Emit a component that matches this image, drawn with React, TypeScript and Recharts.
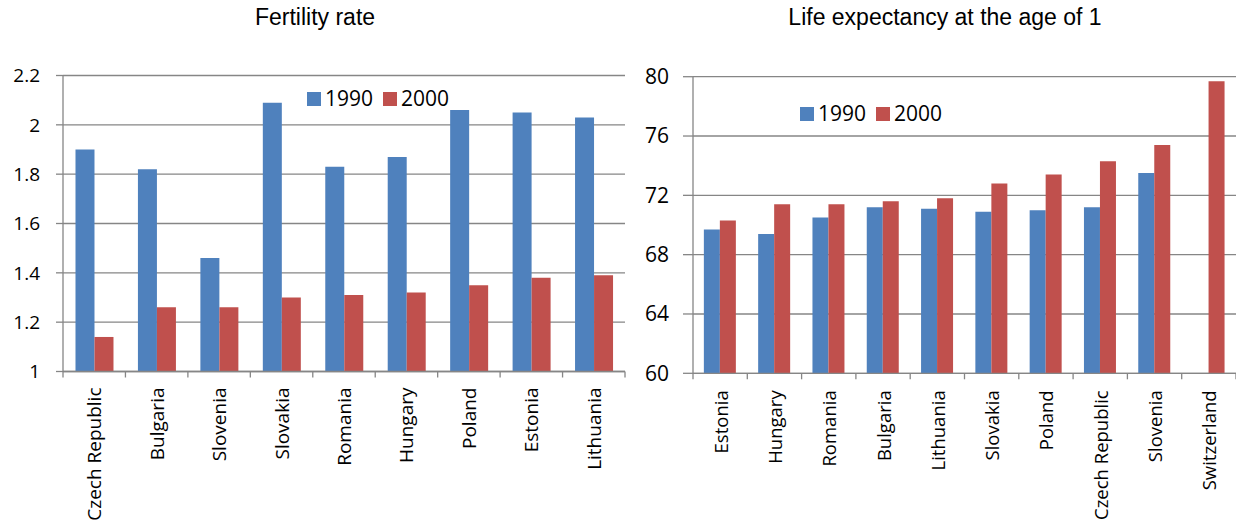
import React from 'react';
import { BarChart, Bar, XAxis, YAxis, CartesianGrid, Legend } from 'recharts';

const BLUE = '#4F81BD';
const RED = '#C0504D';
const GRID = '#868686';
const FONT = '"Open Sans", "Noto Sans", sans-serif';

const fertilityCountries = ['Czech Republic', 'Bulgaria', 'Slovenia', 'Slovakia', 'Romania', 'Hungary', 'Poland', 'Estonia', 'Lithuania'];
const fertility1990 = [1.9, 1.82, 1.46, 2.09, 1.83, 1.87, 2.06, 2.05, 2.03];
const fertility2000 = [1.14, 1.26, 1.26, 1.3, 1.31, 1.32, 1.35, 1.38, 1.39];
const fertilityTicks = [1, 1.2, 1.4, 1.6, 1.8, 2, 2.2];

const lifeCountries = ['Estonia', 'Hungary', 'Romania', 'Bulgaria', 'Lithuania', 'Slovakia', 'Poland', 'Czech Republic', 'Slovenia', 'Switzerland'];
const life1990 = [69.7, 69.4, 70.5, 71.2, 71.1, 70.9, 71.0, 71.2, 73.5, 59.9];
const life2000 = [70.3, 71.4, 71.4, 71.6, 71.8, 72.8, 73.4, 74.3, 75.4, 79.7];
const lifeTicks = [60, 64, 68, 72, 76, 80];

const fertilityData = fertilityCountries.map((c, i) => ({ country: c, y1990: fertility1990[i], y2000: fertility2000[i] }));
const lifeData = lifeCountries.map((c, i) => ({ country: c, y1990: life1990[i], y2000: life2000[i] }));

const LegendContent = (props: any) => {
  const { payload = [] } = props;
  return (
    <div style={{ display: 'flex', alignItems: 'center', fontFamily: FONT, fontSize: 21, color: '#000', lineHeight: 1 }}>
      {payload.map((p: any, i: number) => (
        <div key={i} style={{ display: 'flex', alignItems: 'center', marginRight: 10 }}>
          <span style={{ width: 14, height: 14, background: p.color, marginRight: 4, display: 'inline-block' }} />
          <span>{p.value}</span>
        </div>
      ))}
    </div>
  );
};

// Category tick: rotated label plus Excel-style tick marks on the category boundaries
const makeVerticalTick = (fontSize: number, margin: number, count: number) => (props: any) => {
  const { x, y, payload, index } = props;
  const half = payload && typeof payload.offset === 'number' ? payload.offset : 0;
  const axisY = y - margin;
  const isLast = index === count - 1;
  return (
    <g>
      {half > 0 && (
        <line x1={x - half} x2={x - half} y1={axisY} y2={axisY + 6} stroke={GRID} strokeWidth={1.3} />
      )}
      {half > 0 && isLast && (
        <line x1={x + half} x2={x + half} y1={axisY} y2={axisY + 6} stroke={GRID} strokeWidth={1.3} />
      )}
      <text
        x={x}
        y={y}
        transform={`rotate(-90, ${x}, ${y})`}
        textAnchor="end"
        dominantBaseline="central"
        fontFamily={FONT}
        fontSize={fontSize}
        fill="#000"
      >
        {payload.value}
      </text>
    </g>
  );
};

const LEFT_MARGIN = 16;
const RIGHT_MARGIN = 17;
const LeftTick = makeVerticalTick(19, LEFT_MARGIN, fertilityCountries.length);
const RightTick = makeVerticalTick(18.5, RIGHT_MARGIN, lifeCountries.length);

const titleStyle: React.CSSProperties = {
  position: 'absolute',
  top: 4,
  fontFamily: '"Liberation Sans", Arial, sans-serif',
  fontSize: 23,
  color: '#000',
  whiteSpace: 'nowrap',
  transform: 'translateX(-50%)',
};

export default function App() {
  return (
    <div style={{ position: 'absolute', left: 0, top: 0, width: 1236, height: 523, background: '#fff', overflow: 'hidden' }}>
      <div style={{ ...titleStyle, left: 315 }}>Fertility rate</div>
      <div style={{ ...titleStyle, left: 945 }}>Life expectancy at the age of 1</div>

      <div style={{ position: 'absolute', left: 0, top: 0 }}>
        <BarChart
          width={640}
          height={523}
          data={fertilityData}
          margin={{ top: 75.5, right: 15, bottom: 1, left: 0 }}
          barCategoryGap="20%"
          barGap={0}
        >
          <CartesianGrid vertical={false} stroke={GRID} strokeWidth={1.3} />
          <XAxis
            dataKey="country"
            height={150.5}
            interval={0}
            tickSize={0}
            tickMargin={LEFT_MARGIN}
            tickLine={false}
            axisLine={{ stroke: GRID, strokeWidth: 1.3 }}
            tick={<LeftTick />}
          />
          <YAxis
            width={63}
            domain={[1, 2.2]}
            ticks={fertilityTicks}
            interval={0}
            tickSize={7}
            tickMargin={16}
            axisLine={{ stroke: GRID, strokeWidth: 1.3 }}
            tickLine={{ stroke: GRID, strokeWidth: 1.3 }}
            tick={{ fill: '#000', fontSize: 19, fontFamily: FONT }}
          />
          <Legend
            layout="horizontal"
            align="center"
            verticalAlign="middle"
            wrapperStyle={{ left: 307, top: 88, width: 'auto' }}
            content={<LegendContent />}
          />
          <Bar dataKey="y1990" name="1990" fill={BLUE} isAnimationActive={false} />
          <Bar dataKey="y2000" name="2000" fill={RED} isAnimationActive={false} />
        </BarChart>
      </div>

      <div style={{ position: 'absolute', left: 620, top: 0 }}>
        <BarChart
          width={616}
          height={523}
          data={lifeData}
          margin={{ top: 76.7, right: 0, bottom: 1, left: 0 }}
          barCategoryGap="20%"
          barGap={0}
        >
          <CartesianGrid vertical={false} stroke={GRID} strokeWidth={1.3} />
          <XAxis
            dataKey="country"
            height={148.7}
            interval={0}
            tickSize={0}
            tickMargin={RIGHT_MARGIN}
            tickLine={false}
            axisLine={{ stroke: GRID, strokeWidth: 1.3 }}
            tick={<RightTick />}
          />
          <YAxis
            width={73}
            domain={[60, 80]}
            ticks={lifeTicks}
            interval={0}
            allowDataOverflow
            tickSize={10}
            tickMargin={14}
            axisLine={{ stroke: GRID, strokeWidth: 1.3 }}
            tickLine={{ stroke: GRID, strokeWidth: 1.3 }}
            tick={{ fill: '#000', fontSize: 21, fontFamily: FONT }}
          />
          <Legend
            layout="horizontal"
            align="center"
            verticalAlign="middle"
            wrapperStyle={{ left: 180, top: 103, width: 'auto' }}
            content={<LegendContent />}
          />
          <Bar dataKey="y1990" name="1990" fill={BLUE} isAnimationActive={false} />
          <Bar dataKey="y2000" name="2000" fill={RED} isAnimationActive={false} />
        </BarChart>
      </div>
    </div>
  );
}
